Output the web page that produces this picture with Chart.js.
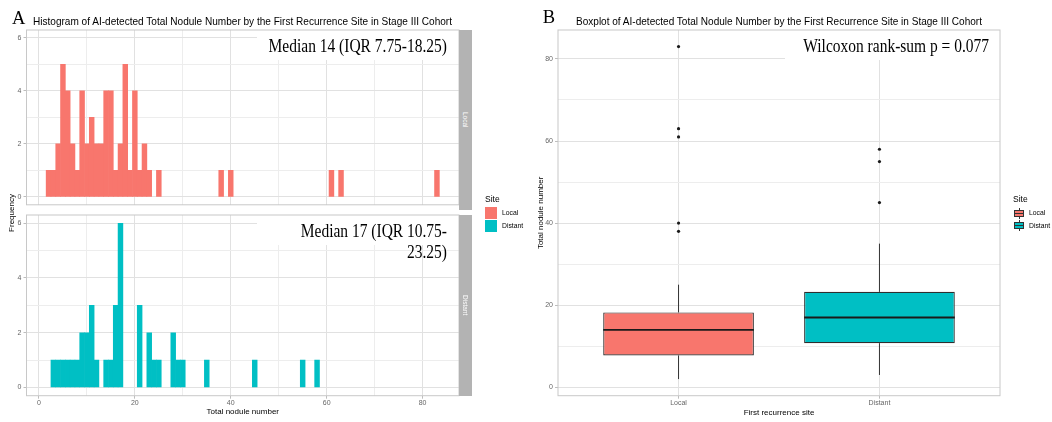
<!DOCTYPE html>
<html lang="en">
<head>
<meta charset="UTF-8">
<title>AI-detected Total Nodule Number by the First Recurrence Site</title>
<script src="https://cdn.jsdelivr.net/npm/chart.js"></script>
<style>
  body {
    margin: 0;
    width: 1052px;
    height: 422px;
    position: relative;
    overflow: hidden;
    background: #fff;
    font-family: "Liberation Sans", Arial, sans-serif;
    color: #000;
  }
  canvas, .txt, .strip, .key { position: absolute; }
  .txt { white-space: nowrap; line-height: 1; transform-origin: 0 50%; }
  .serif { font-family: "Liberation Serif", "Times New Roman", serif; }
  .strip {
    left: 459px; width: 13px; background: #b3b3b3; color: #fff;
    font-size: 6.5px; display: flex; align-items: center; justify-content: center;
  }
  .strip span { writing-mode: vertical-rl; }
  .key { width: 12px; height: 12px; }
  .boxkey i, .boxkey b { position: absolute; display: block; }
  .boxkey .whisk { left: 5.5px; top: 0.5px; width: 1px; height: 11px; background: #333; }
  .boxkey b { left: 1px; top: 2.5px; width: 10px; height: 7px; border: 1px solid #333; box-sizing: border-box; }
  .boxkey .mid { left: 1px; top: 5.5px; width: 10px; height: 1px; background: #333; }
</style>
</head>
<body>
<canvas id="histLocal" width="460" height="211" style="left:0;top:0"></canvas>
<canvas id="histDistant" width="460" height="217" style="left:0;top:205px"></canvas>
<canvas id="boxSites" width="532" height="422" style="left:520px;top:0"></canvas>

<div class="txt serif" style="left:12px;top:8.5px;font-size:18.5px">A</div>
<div class="txt" data-w="419" style="left:33px;top:16px;font-size:10.5px">Histogram of AI-detected Total Nodule Number by the First Recurrence Site in Stage III Cohort</div>
<div class="txt serif" style="left:542.7px;top:7.8px;font-size:18.5px">B</div>
<div class="txt" data-w="406" style="left:576px;top:16px;font-size:10.5px">Boxplot of AI-detected Total Nodule Number by the First Recurrence Site in Stage III Cohort</div>

<div class="txt" style="left:-28px;top:209px;width:80px;text-align:center;font-size:8px;transform:rotate(-90deg);transform-origin:50% 50%">Frequency</div>

<div class="strip" style="top:30px;height:180px"><span>Local</span></div>
<div class="strip" style="top:215px;height:181px"><span>Distant</span></div>

<script>
  const siteLabels = ['Local', 'Distant'];
  const siteColors = ['#F8766D', '#00BFC4'];

  // histogram, binwidth 1: centre of each non-empty bin and its count
  const localBins   = [2, 3, 4, 5, 6, 7, 8, 9, 10, 11, 12, 13, 14, 15, 16, 17, 18, 19, 20, 21, 22, 23, 25, 38, 40, 61, 63, 83];
  const localCounts = [1, 1, 2, 5, 4, 2, 1, 4, 2, 3, 2, 2, 4, 4, 1, 2, 5, 1, 4, 1, 2, 1, 1, 1, 1, 1, 1, 1];
  const distantBins   = [3, 4, 5, 6, 7, 8, 9, 10, 11, 12, 14, 15, 16, 17, 21, 23, 24, 25, 28, 29, 30, 35, 45, 55, 58];
  const distantCounts = [1, 1, 1, 1, 1, 1, 2, 2, 3, 1, 1, 1, 3, 6, 3, 2, 1, 1, 2, 1, 1, 1, 1, 1, 1];

  // boxplot summary, one entry per site
  const boxMin    = [2, 3];
  const boxQ1     = [7.75, 10.75];
  const boxMedian = [14, 17];
  const boxQ3     = [18.25, 23.25];
  const boxMax    = [25, 35];
  const boxOutliers = [[38, 40, 61, 63, 83], [45, 55, 58]];

  const histXTicks = [0, 20, 40, 60, 80];
  const histYTicks = [0, 2, 4, 6];
  const boxYTicks  = [0, 20, 40, 60, 80];

  const medianNotes  = [['Median 14 (IQR 7.75-18.25)'], ['Median 17 (IQR 10.75-', '23.25)']];
  const wilcoxonNote = ['Wilcoxon rank-sum p = 0.077'];

  const BOX_WIDTH = 0.75; // fraction of the category slot

  Chart.defaults.font.family = '"Liberation Sans", Arial, sans-serif';
  Chart.defaults.animation = false;
  Chart.defaults.plugins.legend.display = false;
  Chart.defaults.plugins.tooltip.enabled = false;

  // white label box + serif note in the top right corner, and the panel border
  const panelNote = {
    id: 'panelNote',
    beforeDatasetsDraw(chart, args, o) {
      const a = chart.chartArea, ctx = chart.ctx;
      ctx.save();
      ctx.fillStyle = '#fff';
      ctx.fillRect(a.right - o.boxWidth, a.top, o.boxWidth, o.boxHeight);
      ctx.restore();
    },
    afterDatasetsDraw(chart, args, o) {
      const a = chart.chartArea, ctx = chart.ctx;
      ctx.save();
      ctx.font = '18px "Liberation Serif", "Times New Roman", serif';
      ctx.fillStyle = '#000';
      ctx.textAlign = 'right';
      o.lines.forEach((t, i) => {
        ctx.fillText(t, a.right - o.inset, a.top + 22 + i * 21, ctx.measureText(t).width * 0.86);
      });
      ctx.restore();
    },
    afterDraw(chart) {
      const a = chart.chartArea, ctx = chart.ctx;
      ctx.save();
      ctx.strokeStyle = '#c8c8c8';
      ctx.lineWidth = 1;
      ctx.strokeRect(a.left, a.top, a.right - a.left, a.bottom - a.top);
      ctx.restore();
    }
  };

  function ticksWithMinor(major) {
    const out = [];
    major.forEach((v, i) => {
      out.push({ value: v });
      if (i < major.length - 1) out.push({ value: (v + major[i + 1]) / 2, minor: true });
    });
    return out;
  }
  const isMinor = c => !!(c.tick && c.tick.minor);
  function gridOpts(drawTicks) {
    return {
      offset: false,
      color: c => isMinor(c) ? '#ededed' : '#e1e1e1',
      lineWidth: 1,
      drawTicks: drawTicks,
      tickLength: 3,
      tickColor: c => isMinor(c) ? 'rgba(0,0,0,0)' : '#bdbdbd'
    };
  }
  const tickFont = { size: 7 };
  const tickLabel = (v, i, ticks) => ticks[i].minor ? '' : v;

  function drawHistogram(id, bins, counts, color, note, bottomFacet) {
    new Chart(document.getElementById(id), {
      type: 'bar',
      data: {
        datasets: [{
          data: bins.map((b, i) => ({ x: b, y: counts[i] })),
          backgroundColor: color,
          borderWidth: 0,
          barPercentage: 1,
          categoryPercentage: 1
        }]
      },
      options: {
        responsive: false,
        layout: { padding: bottomFacet ? { top: 10, right: 1, bottom: 0, left: 0 } : { top: 30, right: 1, bottom: 1, left: 0 } },
        scales: {
          x: {
            type: 'linear', min: -2.6, max: 87.6, offset: false,
            afterBuildTicks: s => { s.ticks = ticksWithMinor(histXTicks); },
            afterFit: s => { s.height = bottomFacet ? 26.3 : 0; },
            grid: gridOpts(bottomFacet),
            border: { display: false },
            ticks: { display: bottomFacet, autoSkip: false, maxRotation: 0, padding: 0, font: tickFont, color: '#666', callback: tickLabel },
            title: { display: bottomFacet, text: 'Total nodule number', font: { size: 8 }, color: '#000', padding: { top: 0, bottom: 5.2 } }
          },
          y: {
            min: -0.3, max: 6.3,
            afterBuildTicks: s => { s.ticks = ticksWithMinor(histYTicks); },
            afterFit: s => { s.width = 26.5; },
            grid: gridOpts(true),
            border: { display: false },
            ticks: { autoSkip: false, padding: 2, font: tickFont, color: '#666', callback: tickLabel }
          }
        },
        plugins: { panelNote: { lines: note, boxWidth: 202, boxHeight: 30, inset: 12 } }
      },
      plugins: [panelNote]
    });
  }

  drawHistogram('histLocal', localBins, localCounts, siteColors[0], medianNotes[0], false);
  drawHistogram('histDistant', distantBins, distantCounts, siteColors[1], medianNotes[1], true);

  // boxplot: box = floating bar, median / whiskers = lines, outliers = scatter
  const boxDatasets = [
    {
      type: 'scatter', order: 0,
      data: boxOutliers.flatMap((vals, i) => vals.map(v => ({ x: i + 1, y: v }))),
      backgroundColor: '#1a1a1a', borderWidth: 0, pointRadius: 1.6
    },
    {
      type: 'bar', order: 2,
      data: siteLabels.map((s, i) => ({ x: i + 1, y: [boxQ1[i], boxQ3[i]] })),
      backgroundColor: siteColors,
      borderColor: '#2e2e2e', borderWidth: 1.2, borderSkipped: false,
      grouped: false, barPercentage: BOX_WIDTH, categoryPercentage: 1
    }
  ];
  siteLabels.forEach((s, i) => {
    boxDatasets.push({
      type: 'line', order: 1,
      data: [{ x: i + 1 - BOX_WIDTH / 2, y: boxMedian[i] }, { x: i + 1 + BOX_WIDTH / 2, y: boxMedian[i] }],
      borderColor: '#1a1a1a', borderWidth: 1.8, pointRadius: 0, fill: false
    });
    [[boxQ3[i], boxMax[i]], [boxMin[i], boxQ1[i]]].forEach(seg => {
      boxDatasets.push({
        type: 'line', order: 3,
        data: seg.map(v => ({ x: i + 1, y: v })),
        borderColor: '#333333', borderWidth: 1, pointRadius: 0, fill: false
      });
    });
  });

  new Chart(document.getElementById('boxSites'), {
    type: 'bar',
    data: { datasets: boxDatasets },
    options: {
      responsive: false,
      layout: { padding: { top: 30, right: 52, bottom: 0, left: 15 } },
      scales: {
        x: {
          type: 'linear', min: 0.4, max: 2.6, offset: false,
          afterBuildTicks: s => { s.ticks = siteLabels.map((lab, i) => ({ value: i + 1 })); },
          afterFit: s => { s.height = 26.3; },
          grid: gridOpts(true),
          border: { display: false },
          ticks: { autoSkip: false, maxRotation: 0, padding: 0, font: tickFont, color: '#666', callback: v => siteLabels[v - 1] },
          title: { display: true, text: 'First recurrence site', font: { size: 8 }, color: '#000', padding: { top: 0, bottom: 4.5 } }
        },
        y: {
          min: -2.05, max: 87.05,
          afterBuildTicks: s => { s.ticks = ticksWithMinor(boxYTicks); },
          afterFit: s => { s.width = 23; },
          grid: gridOpts(true),
          border: { display: false },
          ticks: { autoSkip: false, padding: 2, font: tickFont, color: '#666', callback: tickLabel },
          title: { display: true, text: 'Total nodule number', font: { size: 8 }, color: '#000', padding: { top: 1, bottom: 0 } }
        }
      },
      plugins: { panelNote: { lines: wilcoxonNote, boxWidth: 215, boxHeight: 30, inset: 11 } }
    },
    plugins: [panelNote]
  });

  // legends ("Site"), one per panel
  function buildLegend(left, boxKey) {
    const top = 194.5;
    const title = document.createElement('div');
    title.className = 'txt';
    title.textContent = 'Site';
    Object.assign(title.style, { left: left + 'px', top: top + 'px', fontSize: '8.5px' });
    document.body.appendChild(title);
    siteLabels.forEach((lab, i) => {
      const key = document.createElement('div');
      key.className = boxKey ? 'key boxkey' : 'key';
      Object.assign(key.style, { left: left + 'px', top: (top + 12.5 + i * 12.5) + 'px' });
      if (boxKey) key.innerHTML = '<i class="whisk"></i><b style="background:' + siteColors[i] + '"></b><i class="mid"></i>';
      else key.style.background = siteColors[i];
      document.body.appendChild(key);
      const t = document.createElement('div');
      t.className = 'txt';
      t.textContent = lab;
      Object.assign(t.style, { left: (left + (boxKey ? 16 : 17)) + 'px', top: (top + 15.2 + i * 13) + 'px', fontSize: '6.8px' });
      document.body.appendChild(t);
    });
  }
  buildLegend(485, false);
  buildLegend(1013, true);

  // titles are a little condensed in the original figure
  document.querySelectorAll('[data-w]').forEach(el => {
    el.style.transform = 'scaleX(' + (el.dataset.w / el.getBoundingClientRect().width) + ')';
  });
</script>
</body>
</html>
